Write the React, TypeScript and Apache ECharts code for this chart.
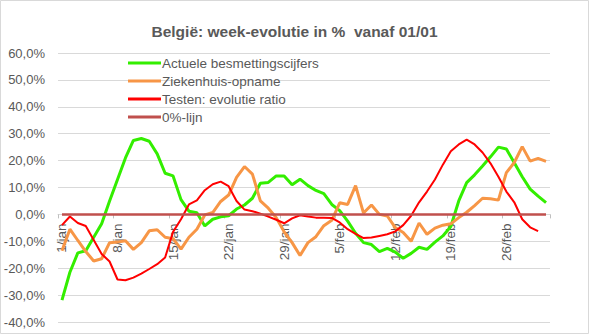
import React, { useEffect, useRef } from "react";
import * as echarts from "echarts";

const monthNames = ["jan", "feb", "mar"];
const monthDays = [31, 28, 3];
const categories: string[] = [];
monthNames.forEach((m, k) => {
  for (let d = 1; d <= monthDays[k]; d++) categories.push(d + "/" + m);
});

const seriesNames = [
  "Actuele besmettingscijfers",
  "Ziekenhuis-opname",
  "Testen: evolutie ratio",
  "0%-lijn",
];

const besmettingen = [
  -31.9, -21.5, -14.3, -13.5, -8.5, -3.5, 5, 13, 21, 27.5,
  28.2, 27.2, 22.5, 15.3, 14.3, 5.5, 1.2, 0.6, -4.3, -1.8,
  -0.9, -0.5, 2, 3.5, 6, 11.6, 11.9, 14.3, 14.3, 11,
  13.1, 10.7, 8.9, 7.7, 3.7, 1.4, -2.5, -7, -10.5, -11.2,
  -13.8, -12.6, -14, -16.3, -14.5, -12.2, -13, -10.3, -8, -4.5,
  5, 11.8, 14.7, 18, 21.4, 25, 24.3, 19.2, 14, 9.4,
  6.8, 4.4,
];

const ziekenhuis = [
  -13.5, -5.5, -9.7, -13.8, -17.3, -16.5, -10.5, -10.3, -9.8, -13,
  -10.5, -6.1, -5.7, -8.5, -9, -12.9, -8.5, -5.5, -0.2, 0.7,
  4.8, 7.2, 13.8, 17.8, 15, 5, 2.3, -1.2, -6.5, -10.5,
  -15.3, -10.5, -8.3, -4.2, -2.2, 4.3, 3.7, 10.7, 0.5, 3.5,
  0, -0.6, -4.9, -6.7, -10, -3.2, -7.4, -5.1, -4, -3.5,
  -1.2, 0.8, 3.3, 6, 5.8, 5.3, 15.5, 19.3, 25.2, 19.8,
  20.8, 19.7,
];

const testen = [
  -4, -0.8, -3.2, -4.3, -9.5, -14.7, -17.5, -24.2, -24.5, -23.5,
  -22, -20.3, -18.5, -16, -6.5, -1.8, 3.7, 5.2, 9, 11.2,
  12.2, 10.5, 5, 1.8, 1.2, 0.3, -0.8, -2, -3.3, -1.5,
  -0.3, -0.8, -1.2, -1.2, -1.3, -3, -5.5, -7.2, -8.8, -8.6,
  -8, -7.4, -6.3, -4, -0.5, 4.5, 8.5, 13, 18.5, 23.5,
  26, 27.8, 26, 23, 19, 14, 8.5, 4.5, -1.8, -4.8,
  -6.2,
];

const nulLijn = [
  0, 0, 0, 0, 0, 0, 0, 0, 0, 0, 0, 0, 0, 0, 0, 0, 0, 0, 0, 0,
  0, 0, 0, 0, 0, 0, 0, 0, 0, 0, 0, 0, 0, 0, 0, 0, 0, 0, 0, 0,
  0, 0, 0, 0, 0, 0, 0, 0, 0, 0, 0, 0, 0, 0, 0, 0, 0, 0, 0, 0,
  0, 0,
];

const colors = ["#33EE00", "#F79646", "#FF0000", "#C0504D"];
const widths = [3, 3, 2, 2.5];
const FONT = "Liberation Sans";

const Y_MIN = -40;
const Y_MAX = 60;
const GRID_TOP = 53;
const GRID_BOTTOM = 12;
const CHART_H = 334;

export default function App() {
  const ref = useRef<HTMLDivElement>(null);
  useEffect(() => {
    if (!ref.current) return;
    const chart = echarts.init(ref.current, undefined, { renderer: "svg" });
    const dataSets = [besmettingen, ziekenhuis, testen, nulLijn];
    const plotH = CHART_H - GRID_TOP - GRID_BOTTOM;
    // move the category axis (line, ticks, labels) up to the 0 value
    const zeroOffset = -plotH * ((0 - Y_MIN) / (Y_MAX - Y_MIN));
    chart.setOption({
      animation: false,
      backgroundColor: "#ffffff",
      title: {
        text: "België: week-evolutie in %  vanaf 01/01",
        left: "center",
        top: 18,
        textStyle: {
          fontFamily: FONT,
          fontSize: 15.5,
          fontWeight: "bold",
          color: "#595959",
        },
      },
      graphic: [
        {
          type: "rect",
          shape: { x: 0.5, y: 0.5, width: 588, height: 333 },
          style: { fill: "none", stroke: "#D9D9D9", lineWidth: 1 },
          silent: true,
        },
      ],
      legend: {
        orient: "vertical",
        left: 123,
        top: 51,
        itemWidth: 33,
        itemHeight: 3,
        itemGap: 4,
        icon: "rect",
        data: seriesNames,
        textStyle: {
          fontFamily: FONT,
          fontSize: 13.5,
          lineHeight: 14,
          color: "#595959",
          padding: [0, 0, 0, -4],
        },
      },
      grid: {
        left: 58,
        right: 39,
        top: GRID_TOP,
        bottom: GRID_BOTTOM,
        containLabel: false,
        outerBoundsMode: "none",
      },
      xAxis: {
        type: "category",
        data: categories,
        boundaryGap: true,
        position: "bottom",
        offset: zeroOffset,
        axisLine: { show: true, onZero: false, lineStyle: { color: "#D9D9D9" } },
        axisTick: {
          show: true,
          interval: 6,
          length: 4,
          lineStyle: { color: "#BFBFBF" },
        },
        axisLabel: {
          interval: 6,
          rotate: 90,
          margin: 9,
          fontFamily: FONT,
          fontSize: 13.5,
          color: "#595959",
        },
        splitLine: { show: false },
      },
      yAxis: {
        type: "value",
        min: Y_MIN,
        max: Y_MAX,
        interval: 10,
        axisLine: { show: false },
        axisTick: { show: false },
        axisLabel: {
          margin: 13,
          fontFamily: FONT,
          fontSize: 13,
          color: "#595959",
          formatter: (v: number) => v.toFixed(1).replace(".", ",") + "%",
        },
        splitLine: { lineStyle: { color: "#D9D9D9", width: 1 } },
      },
      series: seriesNames.map((name, k) => ({
        name,
        type: "line",
        data: dataSets[k],
        showSymbol: false,
        symbol: "none",
        smooth: false,
        color: colors[k],
        lineStyle: { color: colors[k], width: widths[k] },
      })),
    });
    return () => chart.dispose();
  }, []);
  return (
    <div
      ref={ref}
      style={{ position: "fixed", left: 0, top: 0, width: 589, height: 334 }}
    />
  );
}
